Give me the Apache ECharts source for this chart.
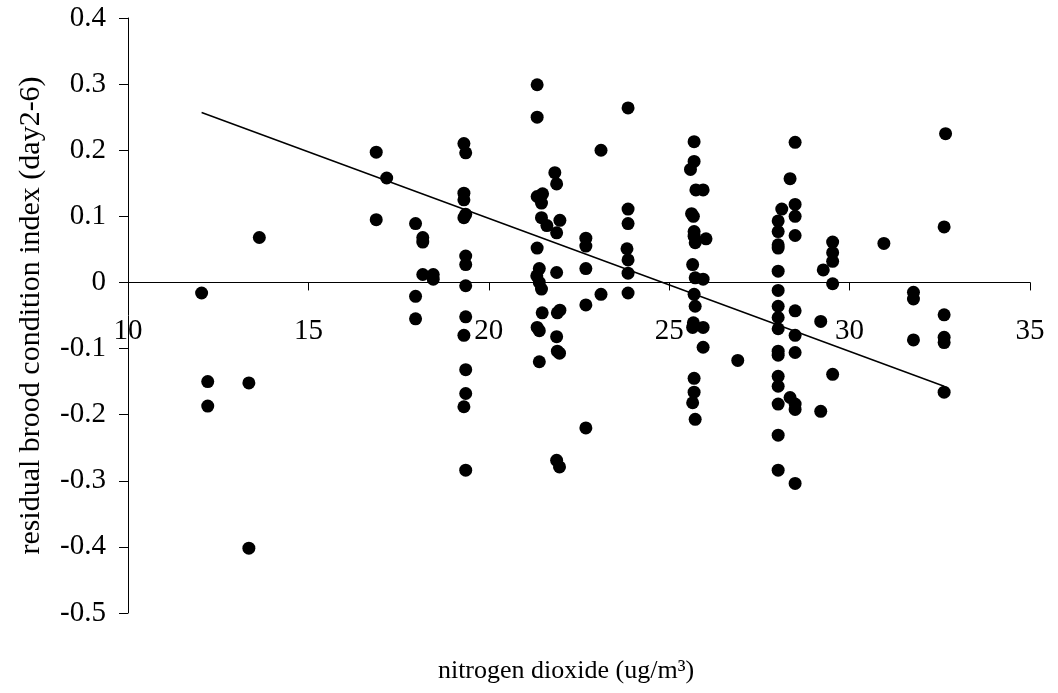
<!DOCTYPE html>
<html>
<head>
<meta charset="utf-8">
<script src="https://cdn.jsdelivr.net/npm/echarts@6/dist/echarts.min.js"></script>
<style>
  html, body { margin: 0; padding: 0; background: #fff; }
  #chart { width: 1058px; height: 693px; }
</style>
</head>
<body>
<div id="chart"></div>
<script>
// Nitrogen dioxide level (ug/m³) at each nest, paired with its residual brood condition index
const no2Level = [
  12.04, 12.21, 12.21, 13.35, 13.35, 13.64,
  16.88, 16.88, 17.17,
  17.97, 17.97, 17.97, 18.17, 18.17, 18.17, 18.46, 18.46,
  19.31, 19.36, 19.31, 19.31, 19.36, 19.31, 19.36, 19.36, 19.36,
  19.36, 19.31, 19.36, 19.36, 19.31, 19.36,
  21.34, 21.34, 21.34, 21.49, 21.46, 21.46, 21.61, 21.34, 21.40, 21.33,
  21.40, 21.46, 21.48, 21.34, 21.40, 21.40,
  21.83, 21.88, 21.97, 21.88, 21.88, 21.97, 21.90, 21.88, 21.90, 21.96, 21.88, 21.96,
  22.69, 22.69, 22.69, 22.69, 22.69,
  23.11, 23.11,
  23.86, 23.86, 23.86, 23.83, 23.86, 23.86, 23.86,
  25.69, 25.69, 25.59, 25.74, 25.94, 25.62, 25.67, 25.69, 25.69, 25.72, 26.02,
  25.65, 25.72, 25.94, 25.69, 25.72, 25.67, 25.65, 25.94, 25.94,
  25.69, 25.69, 25.65, 25.72,
  26.90,
  28.02, 28.02, 28.02, 28.02, 28.02, 28.02, 28.12, 28.35, 28.49, 28.49, 28.49, 28.49,
  28.02, 28.02, 28.02, 28.02, 28.02, 28.02, 28.02, 28.02, 28.02, 28.02,
  28.49, 28.49, 28.49, 28.35, 28.49, 28.49, 28.49,
  29.27, 29.53, 29.53, 29.53, 29.53, 29.20, 29.53, 29.20,
  30.95,
  31.77, 31.77, 31.77,
  32.66, 32.62, 32.62, 32.62, 32.62, 32.62
];

const conditionIndex = [
  -0.016, -0.150, -0.187, -0.152, -0.402, 0.068,
  0.197, 0.095, 0.158,
  0.089, -0.021, -0.055, 0.068, 0.061, 0.012, 0.012, 0.005,
  0.210, 0.196, 0.135, 0.125, 0.103, 0.098, 0.040, 0.027, -0.005,
  -0.052, -0.080, -0.132, -0.168, -0.188, -0.284,
  0.299, 0.250, 0.130, 0.134, 0.120, 0.098, 0.086, 0.052, 0.021, 0.010,
  0.000, -0.010, -0.046, -0.068, -0.073, -0.120,
  0.166, 0.149, 0.094, 0.075, 0.015, -0.042, -0.046, -0.082, -0.104, -0.107, -0.269, -0.279,
  0.067, 0.055, 0.021, -0.034, -0.220,
  0.200, -0.018,
  0.264, 0.111, 0.089, 0.051, 0.034, 0.014, -0.016,
  0.213, 0.183, 0.171, 0.140, 0.140, 0.104, 0.100, 0.077, 0.070, 0.060, 0.066,
  0.027, 0.007, 0.005, -0.018, -0.036, -0.061, -0.068, -0.068, -0.098,
  -0.145, -0.166, -0.182, -0.207,
  -0.118,
  0.093, 0.077, 0.057, 0.052, 0.017, -0.012, 0.111, 0.157, 0.212, 0.118, 0.100, 0.071,
  -0.036, -0.053, -0.070, -0.104, -0.110, -0.142, -0.157, -0.184, -0.231, -0.284,
  -0.043, -0.080, -0.106, -0.174, -0.184, -0.192, -0.304,
  0.019, 0.061, 0.045, 0.032, -0.002, -0.059, -0.139, -0.195,
  0.059,
  -0.015, -0.025, -0.087,
  0.225, 0.084, -0.049, -0.083, -0.091, -0.166
];

// Fitted least-squares line, drawn between its two end points
const trendX = [12.04, 32.62];
const trendY = [0.257, -0.157];

const xTicks = { min: 10, max: 35, step: 5 };
const yTicks = { min: -0.5, max: 0.4, step: 0.1 };

const serif = '"Liberation Serif", "Times New Roman", serif';

const points = no2Level.map((x, i) => [x, conditionIndex[i]]);
const trend = trendX.map((x, i) => [x, trendY[i]]);

// Plot area in pixels
const gridBox = { left: 128, right: 28, top: 18, bottom: 80 };
const plotHeight = 693 - gridBox.top - gridBox.bottom;
// Lift the whole x axis (line, ticks, labels) from the bottom edge up to y = 0
const zeroLift = plotHeight * (0 - yTicks.min) / (yTicks.max - yTicks.min);

const chart = echarts.init(document.getElementById('chart'), null, { renderer: 'canvas' });

chart.setOption({
  animation: false,
  backgroundColor: '#ffffff',
  grid: Object.assign({ containLabel: false, outerBoundsMode: 'none' }, gridBox),
  xAxis: {
    type: 'value',
    min: xTicks.min,
    max: xTicks.max,
    interval: xTicks.step,
    offset: -zeroLift,
    name: 'nitrogen dioxide (ug/m³)',
    nameLocation: 'middle',
    nameGap: 376,
    nameTextStyle: { fontFamily: serif, fontSize: 26, color: '#000', padding: [0, 26, 0, 0] },
    axisLine: { onZero: false, lineStyle: { color: '#000', width: 1 } },
    axisTick: { show: true, inside: false, length: 8, lineStyle: { color: '#000' } },
    axisLabel: { margin: 34, fontFamily: serif, fontSize: 29, color: '#000' },
    splitLine: { show: false }
  },
  yAxis: {
    type: 'value',
    min: yTicks.min,
    max: yTicks.max,
    interval: yTicks.step,
    name: 'residual brood condition index (day2-6)',
    nameLocation: 'middle',
    nameGap: 82,
    nameTextStyle: { fontFamily: serif, fontSize: 30, color: '#000' },
    axisLine: { onZero: false, lineStyle: { color: '#000', width: 1 } },
    axisTick: { show: true, inside: false, length: 9, lineStyle: { color: '#000' } },
    axisLabel: {
      margin: 22,
      fontFamily: serif,
      fontSize: 29,
      color: '#000',
      formatter: v => String(parseFloat(v.toFixed(1)))
    },
    splitLine: { show: false }
  },
  series: [
    {
      name: 'nests',
      type: 'scatter',
      data: points,
      symbol: 'circle',
      symbolSize: 13,
      itemStyle: { color: '#000', opacity: 1 },
      z: 3
    },
    {
      name: 'trend',
      type: 'line',
      data: trend,
      symbol: 'none',
      lineStyle: { color: '#000', width: 1.5 },
      z: 2
    }
  ]
});
</script>
</body>
</html>
